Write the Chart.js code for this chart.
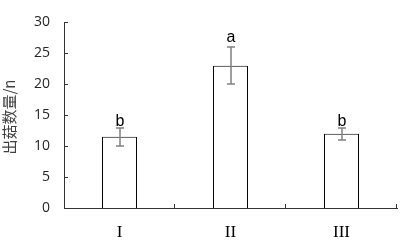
<!DOCTYPE html>
<html>
<head>
<meta charset="utf-8">
<script src="https://cdn.jsdelivr.net/npm/chart.js@4.4.0/dist/chart.umd.min.js"></script>
<style>
html, body { margin: 0; padding: 0; background: #fff; }
#wrap { width: 401px; height: 241px; }
</style>
</head>
<body>
<div id="wrap"><canvas id="chart"></canvas></div>
<script>
const categories = ['I', 'II', 'III'];
const means = [11.5, 23, 12];
const errors = [1.5, 3, 1];
const letters = ['b', 'a', 'b'];
const letterAt = [13.2, 26.8, 13.3];
const yTitle = '出菇数量/n';

// error bars, significance letters, inner ticks and y title
const extras = {
    id: 'extras',
    afterDatasetsDraw(chart) {
        const ctx = chart.ctx;
        const x = chart.scales.x, y = chart.scales.y;
        const area = chart.chartArea;
        ctx.save();

        // inner ticks on y axis
        ctx.strokeStyle = '#333';
        ctx.lineWidth = 1;
        y.ticks.forEach(t => {
            const py = Math.round(y.getPixelForValue(t.value)) + 0.5;
            ctx.beginPath();
            ctx.moveTo(area.left, py);
            ctx.lineTo(area.left + 4, py);
            ctx.stroke();
        });
        // inner ticks on x axis between categories
        const step = (area.right - area.left) / categories.length;
        for (let i = 1; i <= categories.length; i++) {
            const px = Math.round(area.left + step * i) - 0.5;
            ctx.beginPath();
            ctx.moveTo(px, area.bottom);
            ctx.lineTo(px, area.bottom - 4);
            ctx.stroke();
        }

        // error bars
        ctx.strokeStyle = '#808080';
        ctx.lineWidth = 1.5;
        categories.forEach((c, i) => {
            const px = Math.round(x.getPixelForValue(i));
            const top = Math.round(y.getPixelForValue(means[i] + errors[i]));
            const bot = Math.round(y.getPixelForValue(means[i] - errors[i]));
            ctx.beginPath();
            ctx.moveTo(px, top); ctx.lineTo(px, bot);
            ctx.moveTo(px - 4, top); ctx.lineTo(px + 4, top);
            ctx.moveTo(px - 4, bot); ctx.lineTo(px + 4, bot);
            ctx.stroke();

            ctx.fillStyle = '#000';
            ctx.font = '16px "Liberation Sans", Arial, sans-serif';
            ctx.textAlign = 'center';
            ctx.textBaseline = 'alphabetic';
            ctx.fillText(letters[i], px, y.getPixelForValue(letterAt[i]));
        });

        // y axis title
        ctx.translate(9, 117);
        ctx.rotate(-Math.PI / 2);
        ctx.fillStyle = '#404040';
        ctx.font = '15px "Noto Sans CJK SC", sans-serif';
        ctx.textAlign = 'center';
        ctx.textBaseline = 'middle';
        ctx.fillText(yTitle, 0, 0);
        ctx.restore();
    }
};

new Chart(document.getElementById('chart'), {
    type: 'bar',
    data: {
        labels: categories,
        datasets: [{
            data: means,
            backgroundColor: '#fff',
            borderColor: '#000',
            borderWidth: 1,
            barPercentage: 0.315,
            categoryPercentage: 1
        }]
    },
    options: {
        responsive: true,
        maintainAspectRatio: false,
        animation: false,
        layout: { padding: { left: 0, right: 4, top: 8, bottom: 0 } },
        plugins: { legend: { display: false }, tooltip: { enabled: false } },
        scales: {
            x: {
                grid: { display: false, drawTicks: false },
                border: { display: true, color: '#333', width: 1 },
                ticks: {
                    color: '#000',
                    padding: 14,
                    font: { family: '"Liberation Serif", "Times New Roman", serif', size: 17 }
                },
                afterFit(scale) { scale.height = 33; }
            },
            y: {
                min: 0,
                max: 30,
                grid: { display: false, drawTicks: false },
                border: { display: true, color: '#333', width: 1 },
                ticks: {
                    stepSize: 5,
                    color: '#262626',
                    padding: 14,
                    font: { family: '"Open Sans", "Liberation Sans", sans-serif', size: 14 }
                },
                afterFit(scale) { scale.width = 64; }
            }
        }
    },
    plugins: [extras]
});
</script>
</body>
</html>
